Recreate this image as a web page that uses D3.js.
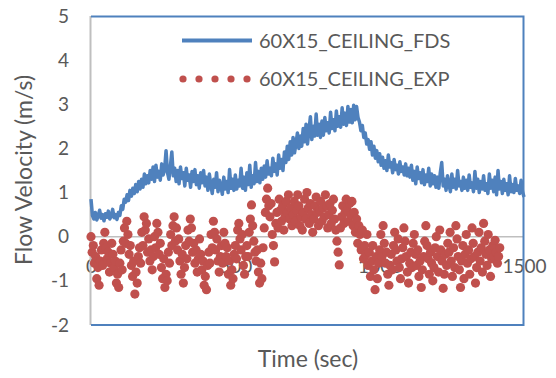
<!DOCTYPE html>
<html>
<head>
<meta charset="utf-8">
<script src="https://cdn.jsdelivr.net/npm/d3@7/dist/d3.min.js"></script>
<style>
  html, body { margin: 0; padding: 0; background: #fff; }
  svg { display: block; font-family: Lato, "Liberation Sans", sans-serif; }
</style>
</head>
<body>
<svg id="chart" width="556" height="378"></svg>
<script>
// Simulated (FDS) ceiling flow velocity, sampled every 5 s from 0 to 1500 s
const fdsStep = 5;
const fdsVelocity = [
  0.85, 0.48, 0.40, 0.55, 0.38, 0.47, 0.60, 0.42, 0.50, 0.36, 0.52, 0.44, 0.58, 0.40, 0.47, 0.62, 0.43, 0.50, 0.39, 0.55,
  0.48, 0.70, 0.62, 0.85, 0.78, 0.95, 0.82, 1.05, 0.92, 1.10, 0.98, 1.18, 1.02, 1.25, 1.08, 1.30, 1.12, 1.42, 1.20, 1.38,
  1.22, 1.50, 1.30, 1.58, 1.25, 1.62, 1.35, 1.48, 1.28, 1.65, 1.40, 1.52, 1.95, 1.45, 1.30, 1.60, 1.92, 1.38, 1.55, 1.25,
  1.50, 1.20, 1.58, 1.32, 1.45, 1.15, 1.55, 1.28, 1.40, 1.12, 1.48, 1.25, 1.52, 1.18, 1.38, 1.10, 1.45, 1.22, 1.50, 1.15,
  1.35, 1.05, 1.42, 1.18, 0.98, 1.30, 1.12, 1.45, 1.02, 1.28, 1.15, 0.96, 1.35, 1.08, 1.25, 1.00, 1.52, 1.10, 1.30, 1.05,
  1.40, 1.08, 1.28, 1.15, 1.55, 1.10, 1.35, 1.05, 1.45, 1.18, 1.62, 1.12, 1.38, 1.20, 1.68, 1.25, 1.48, 1.22, 1.55, 1.30,
  1.60, 1.35, 1.72, 1.42, 1.55, 1.38, 1.78, 1.48, 1.65, 1.40, 1.85, 1.55, 1.75, 1.50, 1.92, 1.68, 2.05, 1.75, 2.15, 1.85,
  2.25, 1.90, 2.10, 2.35, 2.00, 2.28, 2.05, 2.45, 2.15, 2.55, 2.10, 2.40, 2.72, 2.20, 2.50, 2.28, 2.78, 2.30, 2.55, 2.25,
  2.62, 2.30, 2.70, 2.40, 2.58, 2.35, 2.82, 2.45, 2.65, 2.40, 2.85, 2.50, 2.72, 2.48, 2.92, 2.55, 2.80, 2.52, 2.95, 2.60,
  2.88, 2.58, 2.98, 2.65, 2.95, 2.70, 2.60, 2.40, 2.52, 2.25, 2.35, 2.10, 2.20, 1.98, 2.15, 1.85, 2.05, 1.78, 1.95, 1.70,
  1.88, 1.62, 1.80, 1.55, 1.72, 1.50, 1.85, 1.58, 1.68, 1.45, 1.75, 1.52, 1.62, 1.42, 1.70, 1.48, 1.58, 1.40, 1.65, 1.38,
  1.55, 1.35, 1.62, 1.28, 1.48, 1.20, 1.58, 1.32, 1.45, 1.22, 1.52, 1.18, 1.40, 1.25, 1.55, 1.15, 1.42, 1.20, 1.38, 1.12,
  1.35, 1.10, 1.45, 1.68, 1.15, 1.30, 1.05, 1.38, 1.18, 1.02, 1.42, 1.12, 1.30, 1.08, 1.50, 1.15, 1.25, 1.05, 1.35, 1.10,
  1.28, 1.05, 1.40, 1.12, 1.22, 1.02, 1.48, 1.10, 1.30, 1.00, 1.25, 1.08, 1.38, 1.05, 1.20, 0.98, 1.42, 1.10, 1.28, 1.02,
  1.35, 0.95, 1.50, 1.08, 1.25, 0.98, 1.30, 1.05, 1.20, 0.95, 1.38, 1.02, 1.18, 1.00, 1.32, 1.05, 1.15, 0.98, 1.28, 1.02,
  0.90
];

// Measured (EXP) ceiling flow velocity, sampled every 4 s from 0 to 1416 s
const expStep = 4;
const expVelocity = [
  // 0 - 96 s
  0.00, -0.35, -0.20, -0.60, -0.45, -0.95, -0.70, -1.10, -0.55, -0.30, -0.65, -0.15, 0.10, -0.25, -0.50, -0.35, -0.80, -0.60, -0.15, -0.40,
  -0.70, -0.55, -1.05, -0.85, -1.15,
  // 100 - 296 s
  -0.60, -0.30, -0.75, -0.10, 0.20, -0.15, 0.35, 0.05, -0.40, -0.20, -0.65, -0.90, -0.55, -1.30, -0.80, -1.05, -0.45, -0.25, -0.60, 0.10,
  -0.20, 0.45, 0.15, 0.30, -0.35, -0.05, -0.55, -0.30, -0.75, -0.45, 0.00, -0.25, 0.30, 0.10, -0.40, -0.15, -0.70, -0.95, -0.50, -1.15,
  -0.85, -1.00, -0.35, -0.60, 0.05, -0.20, 0.25, 0.45, -0.10, 0.20,
  // 300 - 536 s
  -0.30, -0.05, -0.55, -0.85, -0.40, -1.05, -0.70, -0.20, -0.50, 0.15, -0.10, 0.40, 0.20, -0.35, -0.15, -0.60, -0.30, -0.80, -0.50, -0.05,
  -0.40, -0.75, -0.55, -1.10, -0.90, -1.20, -0.65, -0.35, -0.60, 0.05, -0.25, 0.35, 0.10, -0.30, -0.05, -0.55, -0.80, -0.45, -0.20, -0.60,
  0.10, -0.15, -0.45, -0.25, -0.85, -0.55, -1.10, -0.75, -0.95, -0.40, -0.20, -0.50, 0.15, 0.30, -0.05, -0.30, 0.05, -0.65, -0.85, -0.45,
  // 540 - 616 s
  -0.20, -0.45, 0.10, 0.40, 0.72, 0.25, -0.10, -0.35, -0.55, -0.30, -0.80, -1.05, -0.60, -0.95, -0.25, 0.20, 0.55, 0.85, 1.10, 0.70,
  // 620 - 696 s
  0.45, 0.75, 0.05, -0.20, -0.57, 0.30, 0.55, 0.20, 0.85, 0.60, 0.35, 0.70, 0.15, 0.45, 0.80, 0.55, 0.95, 0.40, 0.65, 0.25,
  // 700 - 896 s
  0.50, 0.80, 0.35, 0.60, 0.95, 0.70, 0.25, 0.45, 0.15, 0.55, 0.85, 0.40, 1.00, 0.65, 0.30, 0.75, 0.50, 0.10, 0.40, 0.70,
  0.90, 0.55, 0.25, 0.60, 0.80, 0.35, 0.65, 0.45, 0.95, 0.70, 0.20, 0.50, 0.75, 0.30, 0.60, 0.85, 0.40, 0.15, -0.10, -0.35,
  -0.64, 0.20, 0.45, 0.70, 0.30, 0.55, 0.85, 0.60, 0.35, 0.75,
  // 900 - 996 s
  0.50, 0.80, 0.25, 0.55, 0.10, 0.40, -0.15, 0.25, 0.05, -0.30, 0.15, -0.50, -0.20, -0.40, 0.05, -0.65, -0.35, -0.90, -0.55, -0.20,
  -0.75, -1.20, -0.45, -0.95, -0.60,
  // 1000 - 1416 s
  -0.30, 0.05, -0.45, 0.25, -0.15, -0.60, -0.35, -0.85, -1.10, -0.65, -0.40, -0.75, -0.20, 0.10, -0.30, -0.55, -0.05, -0.70, -0.95, -0.50,
  -0.25, 0.20, -0.10, -0.45, -0.80, -1.05, -0.60, -0.35, -0.70, -0.15, 0.05, -0.40, -0.65, -0.30, -0.90, -0.55, -1.15, -0.75, -0.45, -0.10,
  0.25, -0.20, -0.50, -0.85, -0.35, -0.60, -1.00, -0.70, -0.25, 0.00, -0.45, -0.80, 0.15, -0.30, -0.55, -1.17, -0.85, -0.40, -0.65, -0.15,
  -0.35, 0.10, -0.55, -0.90, -0.25, -0.70, 0.25, -0.05, -0.45, -0.75, -1.15, -0.55, -0.20, -0.95, -0.40, 0.05, -0.60, -0.30, -0.85, -0.50,
  0.20, -0.15, -0.45, -1.05, -0.70, -0.35, 0.10, -0.55, -0.25, -0.80, 0.30, -0.10, -0.40, -0.65, 0.05, -0.30, -0.90, -0.50, -0.20, -0.45,
  -0.08, -0.35, -0.60, -0.45, -0.25
];

const seriesNames = ["60X15_CEILING_FDS", "60X15_CEILING_EXP"];
const xTicks = [0, 500, 1000, 1500];
const yTicks = [-2, -1, 0, 1, 2, 3, 4, 5];
const xTitle = "Time (sec)";
const yTitle = "Flow Velocity (m/s)";

const fdsData = fdsVelocity.map((v, i) => ({ t: i * fdsStep, v }));
const expData = expVelocity.map((v, i) => ({ t: i * expStep, v }));

const blue = "#4f81bd", red = "#c0504d", textCol = "#595959", axisGray = "#bfbfbf";
const svg = d3.select("#chart");
const plot = { left: 91, right: 524, top: 16, bottom: 325 };

const x = d3.scaleLinear().domain([0, 1500]).range([plot.left, plot.right]);
const y = d3.scaleLinear().domain([-2, 5]).range([plot.bottom, plot.top]);

// Horizontal axis line at zero
svg.append("line")
  .attr("x1", x(0)).attr("x2", x(1500))
  .attr("y1", y(0)).attr("y2", y(0))
  .attr("stroke", axisGray).attr("stroke-width", 1.5);

// Y axis with labels
const yAxis = d3.axisLeft(y).tickValues(yTicks).tickSize(0).tickPadding(22).tickFormat(d => String(d));
const gy = svg.append("g").attr("transform", `translate(${plot.left},0)`).call(yAxis);
gy.select(".domain").remove();
gy.selectAll("text").attr("fill", textCol).style("font-size", "19px").style("font-family", "Lato, sans-serif");

// X axis labels sit below the zero line
const xAxis = d3.axisBottom(x).tickValues(xTicks).tickSize(0).tickPadding(23).tickFormat(d => String(d));
const gx = svg.append("g").attr("transform", `translate(0,${y(0)})`).call(xAxis);
gx.select(".domain").remove();
gx.selectAll("text").attr("fill", textCol).style("font-size", "19px").style("font-family", "Lato, sans-serif");

// Plot frame: grey value axis on the left, blue border elsewhere
svg.append("line")
  .attr("x1", plot.left - 0.5).attr("x2", plot.left - 0.5)
  .attr("y1", plot.top).attr("y2", plot.bottom)
  .attr("stroke", axisGray).attr("stroke-width", 2);
svg.append("path")
  .attr("d", `M${plot.left},${plot.top + 0.5}H${plot.right - 0.5}V${plot.bottom}H${plot.left}`)
  .attr("fill", "none").attr("stroke", blue).attr("stroke-width", 2);

// FDS line
svg.append("path")
  .datum(fdsData)
  .attr("fill", "none")
  .attr("stroke", blue)
  .attr("stroke-width", 3.5)
  .attr("stroke-linejoin", "round")
  .attr("d", d3.line().x(d => x(d.t)).y(d => y(d.v)));

// EXP markers
svg.append("g").selectAll("circle")
  .data(expData)
  .join("circle")
  .attr("cx", d => x(d.t))
  .attr("cy", d => y(d.v))
  .attr("r", 4.6)
  .attr("fill", red);

// Legend
const legend = svg.append("g");
legend.append("line")
  .attr("x1", 182).attr("x2", 252).attr("y1", 40.5).attr("y2", 40.5)
  .attr("stroke", blue).attr("stroke-width", 4);
legend.selectAll("circle.key")
  .data(d3.range(5))
  .join("circle")
  .attr("class", "key")
  .attr("cx", i => 183 + i * 16)
  .attr("cy", 79)
  .attr("r", 3.6)
  .attr("fill", red);
legend.selectAll("text")
  .data(seriesNames)
  .join("text")
  .attr("x", 259)
  .attr("y", (d, i) => 40.5 + i * 38.5)
  .attr("dy", "0.35em")
  .attr("fill", textCol)
  .style("font-size", "20px")
  .text(d => d);

// Axis titles
svg.append("text")
  .attr("x", 308).attr("y", 367)
  .attr("text-anchor", "middle")
  .attr("fill", textCol)
  .style("font-size", "23px")
  .text(xTitle);
svg.append("text")
  .attr("transform", "translate(32,170) rotate(-90)")
  .attr("text-anchor", "middle")
  .attr("fill", textCol)
  .style("font-size", "23px")
  .text(yTitle);
</script>
</body>
</html>
